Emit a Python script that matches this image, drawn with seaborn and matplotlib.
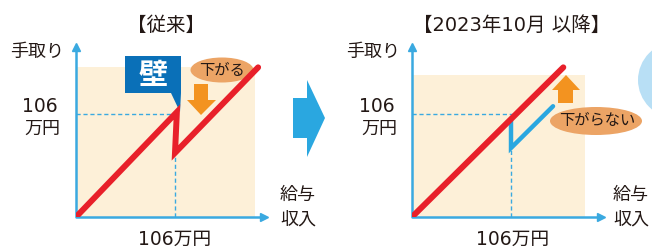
import numpy as np
import pandas as pd
import seaborn as sns
import matplotlib.pyplot as plt
from matplotlib.patches import Rectangle, Ellipse, Polygon, Circle

sns.set_theme(style="white")
plt.rcParams['font.family'] = ['DejaVu Sans', 'Noto Sans CJK JP']

# ---- data (万円 units) ----
income_before = [0, 108, 106, 195]
takehome_before = [0, 108, 66, 154]
income_after_red = [0, 162]
takehome_after_red = [0, 154]
income_after_blue = [106, 106, 151]
takehome_after_blue = [99, 71, 114]
wall_value = 106
titles = ["【従来】", "【2023年10月 以降】"]

W, H = 652, 248
fig = plt.figure(figsize=(W / 100, H / 100), dpi=100)
ax0 = fig.add_axes([0, 0, 1, 1])
ax0.set_xlim(0, W)
ax0.set_ylim(H, 0)
ax0.axis('off')

RED = '#e8202a'
BLUE = '#2aa7e0'
AXC = '#3aa9e0'
SHADE = '#fdf0d8'
ORANGE = '#f39320'
TAN = '#eca465'
DARK = '#231815'

sx = 99 / 106
sy = 103 / 106


def make_panel(ox, oy, wpx, hpx, shade_w, shade_h):
    # background shade in the overlay (beneath decorations)
    ax0.add_patch(Rectangle((ox, oy - shade_h), shade_w, shade_h, color=SHADE, zorder=0, lw=0))
    ax = fig.add_axes([ox / W, (H - oy) / H, wpx / W, hpx / H])
    ax.set_xlim(0, wpx / sx)
    ax.set_ylim(0, hpx / sy)
    ax.axis('off')
    xm, ym = wpx / sx, hpx / sy
    ax.plot([0, 0, xm - 3], [ym - 3, 0, 0], color=AXC, lw=1.8, solid_joinstyle='round',
            solid_capstyle='butt', zorder=2, clip_on=False)
    ax.plot([xm - 4], [0], marker='>', ms=6, color=AXC, mec=AXC, zorder=2, clip_on=False)
    ax.plot([0], [ym - 4], marker='^', ms=6, color=AXC, mec=AXC, zorder=2, clip_on=False)
    return ax


# left panel
axL = make_panel(76, 217, 192, 174, 179, 150)
axL.plot([0, wall_value], [wall_value, wall_value], color=AXC, lw=1, ls=(0, (3, 2)), zorder=1)
axL.plot([wall_value, wall_value], [0, 66], color=AXC, lw=1, ls=(0, (3, 2)), zorder=1)
dfL = pd.DataFrame({'income': income_before, 'takehome': takehome_before})
sns.lineplot(data=dfL, x='income', y='takehome', sort=False, estimator=None, color=RED,
             lw=4.3, ax=axL, solid_capstyle='round', solid_joinstyle='miter', zorder=3)

# right panel
axR = make_panel(412, 217, 193, 174, 173, 142)
axR.plot([0, 110], [wall_value, wall_value], color=AXC, lw=1, ls=(0, (3, 2)), zorder=1)
axR.plot([wall_value, wall_value], [0, 71], color=AXC, lw=1, ls=(0, (3, 2)), zorder=1)
dfR1 = pd.DataFrame({'income': income_after_red, 'takehome': takehome_after_red})
dfR2 = pd.DataFrame({'income': income_after_blue, 'takehome': takehome_after_blue})
sns.lineplot(data=dfR2, x='income', y='takehome', sort=False, estimator=None, color=BLUE,
             lw=3.2, ax=axR, solid_capstyle='round', solid_joinstyle='miter', zorder=3)
sns.lineplot(data=dfR1, x='income', y='takehome', sort=False, estimator=None, color=RED,
             lw=4.3, ax=axR, solid_capstyle='round', zorder=4)
for a in (axL, axR):
    a.axis('off')

# ---- decorations (pixel coords) ----
# wall callout
ax0.add_patch(Polygon([(125, 56), (181, 56), (181, 93), (180, 112), (171, 93), (125, 93)],
                      closed=True, color='#0a70b8', lw=0, zorder=2))
ax0.text(153, 75, "壁", color='white', fontsize=21, fontweight='bold', ha='center', va='center',
         family=['Noto Sans CJK JP'], zorder=3)
# 下がる
ax0.add_patch(Ellipse((222, 70), 63, 25, color=TAN, lw=0, zorder=2))
ax0.text(222, 70, "下がる", color=DARK, fontsize=11, ha='center', va='center',
         family=['Noto Sans CJK JP'], zorder=3)
ax0.add_patch(Polygon([(194, 84), (208, 84), (208, 100), (216, 100), (201, 115), (187, 100), (194, 100)],
                      closed=True, color=ORANGE, lw=0, zorder=2))
# right: 下がらない
ax0.add_patch(Polygon([(558, 103), (573, 103), (573, 90), (580, 90), (566, 75), (552, 90), (558, 90)],
                      closed=True, color=ORANGE, lw=0, zorder=2))
ax0.add_patch(Ellipse((596, 121), 92, 28, color=TAN, lw=0, zorder=2))
ax0.text(597, 121, "下がらない", color=DARK, fontsize=11, ha='center', va='center',
         family=['Noto Sans CJK JP'], zorder=3)
# middle arrow
ax0.add_patch(Polygon([(293, 98), (307, 98), (307, 80), (325, 118), (307, 157), (307, 138), (293, 138)],
                      closed=True, color=BLUE, lw=0, zorder=2))
# circle at right edge
ax0.add_patch(Circle((676, 80), 38, color='#b8dff5', lw=0, zorder=1))

# ---- text ----
ax0.text(166, 25, titles[0], fontsize=14, ha='center', va='center', color=DARK)
ax0.text(512, 25, titles[1], fontsize=14, ha='center', va='center', color=DARK)
for cx, yx, lx in [(40, 175, 37), (377, 513, 373)]:
    ax0.text(cx, 106, "106", fontsize=13.5, ha='center', va='center', color=DARK)
    ax0.text(cx + 2, 129, "万円", fontsize=13, ha='center', va='center', color=DARK)
    ax0.text(yx, 239, "106万円", fontsize=13.5, ha='center', va='center', color=DARK)
    ax0.text(lx, 52, "手取り", fontsize=13, ha='center', va='center', color=DARK)
for gx in (298, 631):
    ax0.text(gx, 195, "給与", fontsize=13, ha='center', va='center', color=DARK)
    ax0.text(gx, 220, "収入", fontsize=13, ha='center', va='center', color=DARK)

fig.savefig('out.png', dpi=100, facecolor='white')
